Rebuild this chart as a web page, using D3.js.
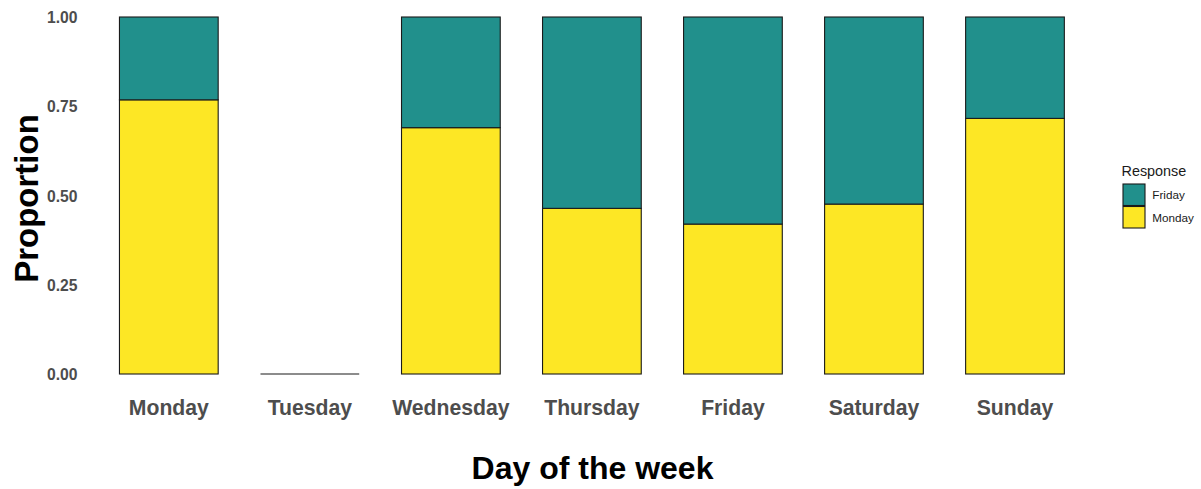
<!DOCTYPE html>
<html><head><meta charset="utf-8">
<script src="https://cdn.jsdelivr.net/npm/d3@7"></script>
<style>body{margin:0;background:#fff}svg{display:block;font-family:"Liberation Sans",Arial,sans-serif}</style>
</head><body><svg id="c" width="1201" height="489"></svg>
<script>
const days = ["Monday","Tuesday","Wednesday","Thursday","Friday","Saturday","Sunday"];
const mondayProp = [0.768, 0, 0.690, 0.464, 0.420, 0.476, 0.716];
const fridayProp = [0.232, 0, 0.310, 0.536, 0.580, 0.524, 0.284];
const responses = ["Friday","Monday"];
const colors = ["#21908C","#FDE725"];
const yTicks = [0, 0.25, 0.5, 0.75, 1];

const svg = d3.select("#c");
const x = d3.scaleBand().domain(days).range([84.2, 1099.6]).paddingInner(0.3).paddingOuter(0.25);
const y = d3.scaleLinear().domain([0,1]).range([374,17]);
const stroke = "#1a1a1a";

const g = svg.append("g");
days.forEach((d,i)=>{
  const m = mondayProp[i], f = fridayProp[i];
  if (m + f === 0) {
    g.append("line").attr("x1",x(d)).attr("x2",x(d)+x.bandwidth())
      .attr("y1",y(0)).attr("y2",y(0)).attr("stroke",stroke).attr("stroke-width",1.2);
    return;
  }
  g.append("rect").attr("x",x(d)).attr("width",x.bandwidth())
    .attr("y",y(m)).attr("height",y(0)-y(m))
    .attr("fill",colors[1]).attr("stroke",stroke).attr("stroke-width",1.1);
  if (f>0) g.append("rect").attr("x",x(d)).attr("width",x.bandwidth())
    .attr("y",y(m+f)).attr("height",y(m)-y(m+f))
    .attr("fill",colors[0]).attr("stroke",stroke).attr("stroke-width",1.1);
});

const ya = svg.append("g").attr("transform","translate(84,0)")
  .call(d3.axisLeft(y).tickValues(yTicks).tickFormat(d3.format(".2f")).tickSize(0).tickPadding(6.5));
ya.select(".domain").remove();
ya.selectAll("text").attr("font-size",15.7).attr("font-weight","bold").attr("fill","#4d4d4d").attr("font-family","Liberation Sans, Arial, sans-serif").attr("dy","0.36em");

const xa = svg.append("g").attr("transform","translate(0,374)")
  .call(d3.axisBottom(x).tickSize(0).tickPadding(25.5));
xa.select(".domain").remove();
xa.selectAll("text").attr("font-size",21.2).attr("font-weight","bold").attr("fill","#4d4d4d").attr("font-family","Liberation Sans, Arial, sans-serif");

svg.append("text").attr("x",592.5).attr("y",479).attr("text-anchor","middle")
  .attr("font-size",32).attr("font-weight","bold").attr("fill","#000").text("Day of the week");
svg.append("text").attr("transform","translate(37.5,198.5) rotate(-90)").attr("text-anchor","middle")
  .attr("font-size",33).attr("font-weight","bold").attr("fill","#000").text("Proportion");

const lg = svg.append("g").attr("transform","translate(1121,0)");
lg.append("text").attr("x",0.5).attr("y",175.5).attr("font-size",14.4).attr("fill","#1a1a1a").text("Response");
responses.forEach((r,i)=>{
  lg.append("rect").attr("x",2).attr("y",184+i*22.5).attr("width",22).attr("height",21.5)
    .attr("fill",colors[i]).attr("stroke",stroke).attr("stroke-width",1.1);
  lg.append("text").attr("x",31.3).attr("y",199.3+i*22.5).attr("font-size",11.7).attr("fill","#1a1a1a").text(r);
});
</script></body></html>
